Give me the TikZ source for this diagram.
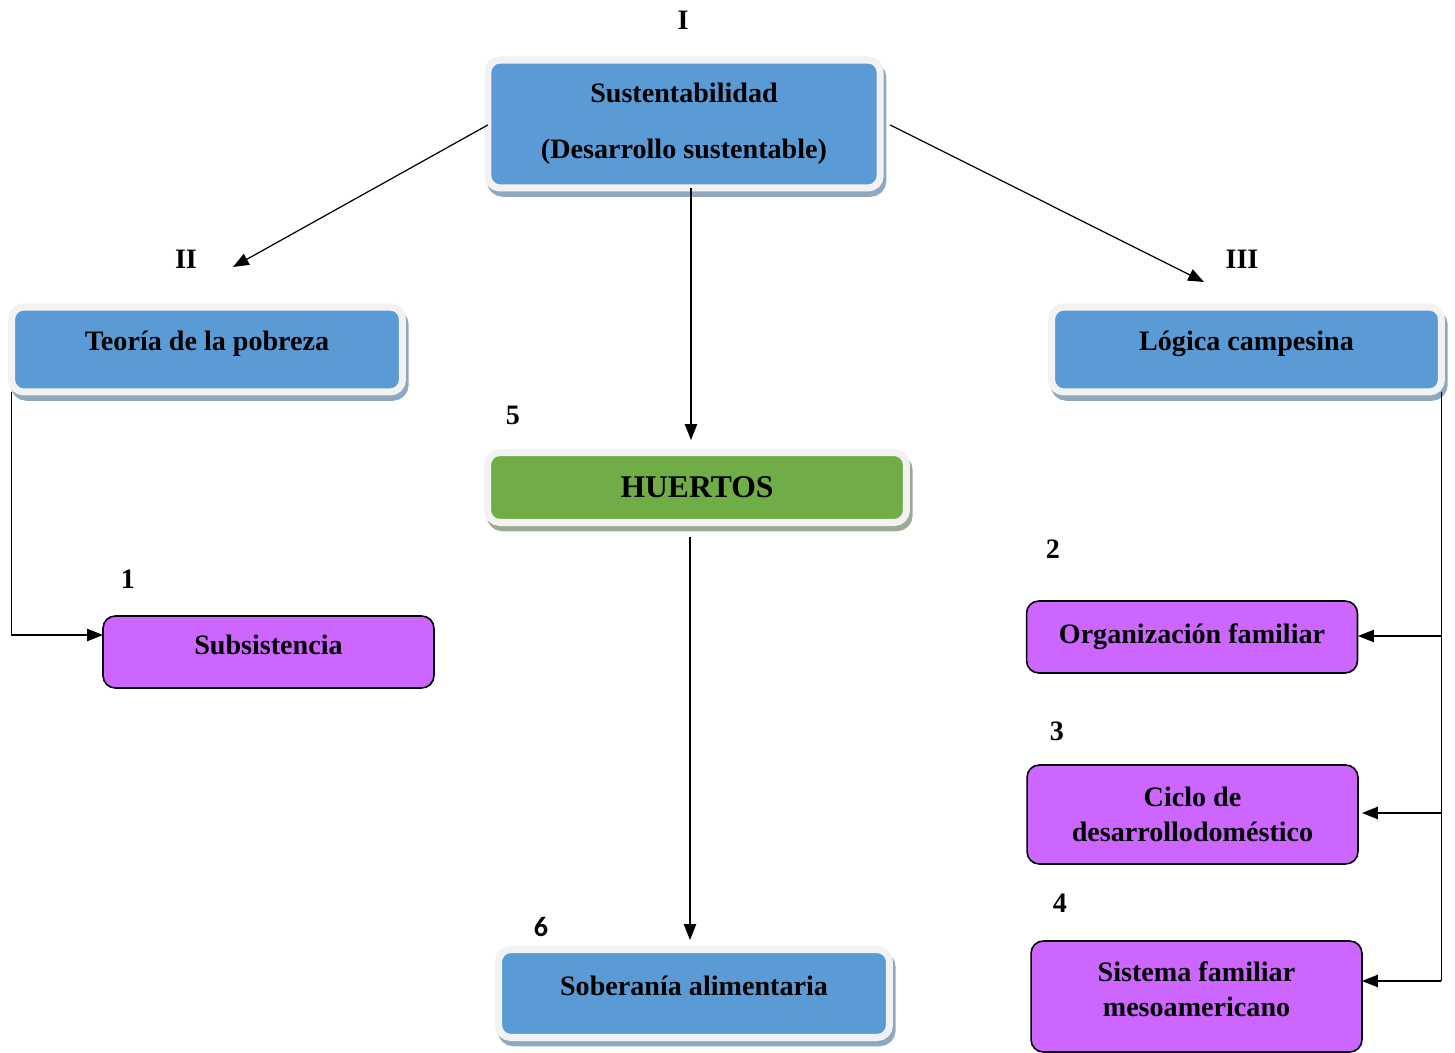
\documentclass[tikz,border=0pt]{standalone}
\usepackage{fontspec}
\setmainfont{Liberation Serif}
\newfontfamily\labelsans{Carlito}
\usetikzlibrary{arrows.meta,shadows}

\definecolor{boxblue}{HTML}{5B9BD5}
\definecolor{boxgreen}{HTML}{70AD47}
\definecolor{boxpurple}{HTML}{CC66FF}
\definecolor{halo}{HTML}{F2F2F2}
\definecolor{shadeblue}{HTML}{8EA8C0}
\definecolor{shadegreen}{HTML}{9DAA92}

\begin{document}
\begin{tikzpicture}[x=0.02cm,y=-0.02cm]
  \tikzstyle{every node}=[font=\fontsize{16}{20}\selectfont\bfseries]
  \tikzstyle{halobox}=[rectangle,rounded corners=7pt,draw=halo,line width=4pt,
    align=center,inner sep=0pt,outer sep=0pt]
  \tikzstyle{bluebox}=[halobox,fill=boxblue,
    drop shadow={shadow xshift=1.5pt,shadow yshift=-3pt,fill=shadeblue,draw=shadeblue,line width=4pt,opacity=1}]
  \tikzstyle{greenbox}=[halobox,fill=boxgreen,
    drop shadow={shadow xshift=1.5pt,shadow yshift=-3pt,fill=shadegreen,draw=shadegreen,line width=4pt,opacity=1}]
  \tikzstyle{purplebox}=[rectangle,rounded corners=7pt,draw=black,line width=0.9pt,
    fill=boxpurple,align=center,minimum width=6.62cm]
  \tikzstyle{arr}=[-{Triangle[length=9pt,width=7pt]},line width=0.7pt]
  \useasboundingbox (0,0) rectangle (1455,1053);

  % main boxes
  \node[bluebox,minimum width=7.85cm,minimum height=2.56cm] (sust) at (684,124)
    {Sustentabilidad\\[12pt](Desarrollo sustentable)};
  \node[bluebox,minimum width=7.82cm,minimum height=1.7cm,text depth=10pt] (teoria) at (207,349.5)
    {Teoría de la pobreza};
  \node[bluebox,minimum width=7.8cm,minimum height=1.7cm,text depth=10pt] (logica) at (1246.5,349.5)
    {Lógica campesina};
  \node[greenbox,minimum width=8.38cm,minimum height=1.4cm,font=\fontsize{18}{22}\selectfont\bfseries] (huertos) at (697,487.5)
    {HUERTOS};
  \node[bluebox,minimum width=7.82cm,minimum height=1.76cm,text depth=9pt] (sober) at (694,993.5)
    {Soberanía alimentaria};

  \node[purplebox,minimum height=1.44cm,text depth=8pt] (subs) at (268.5,652) {Subsistencia};
  \node[purplebox,minimum height=1.44cm] (orga) at (1192,637) {Organización familiar};
  \node[purplebox,minimum height=1.98cm] (ciclo) at (1192.5,814.5) {Ciclo de\\desarrollodoméstico};
  \node[purplebox,minimum height=2.22cm,text depth=8pt] (sist) at (1196.5,996.5) {Sistema familiar\\mesoamericano};

  % numbers
  \node (lI) at (683,20) {I};
  \node (lII) at (186,259) {II};
  \node (lIII) at (1242,259) {III};
  \node (l1) at (128,579) {1};
  \node (l2) at (1053,549) {2};
  \node (l3) at (1057,731) {3};
  \node (l4) at (1060,903) {4};
  \node (l5) at (513,415) {5};
  \node[font=\labelsans\fontsize{16}{20}\selectfont\bfseries] (l6) at (541,927) {6};

  % arrow ends
  \coordinate (tipII) at (233,267);
  \coordinate (tipIII) at (1204,282);
  \coordinate (tip5) at (691,440);
  \coordinate (tip6) at (690,940);
  \coordinate (tip1) at (103,635);
  \coordinate (tip2) at (1358,636);
  \coordinate (tip3) at (1362,813);
  \coordinate (tip4) at (1362,981);

  \draw[arr] (sust.west) ++(0,1) -- (tipII);
  \draw[arr] (sust.east) ++(10,1) -- (tipIII);
  \draw[arr] (sust.south -| tip5) -- (tip5);
  \draw[arr,shorten <=8pt] (huertos.south -| tip6) -- (tip6);
  \draw[arr] (teoria.south west) -- (teoria.south west |- tip1) -- (tip1);
  \draw[line width=0.7pt] (logica.south east) -- (logica.south east |- tip4);
  \foreach \t in {tip2,tip3,tip4}
    \draw[arr] (logica.south east |- \t) -- (\t);
\end{tikzpicture}
\end{document}
